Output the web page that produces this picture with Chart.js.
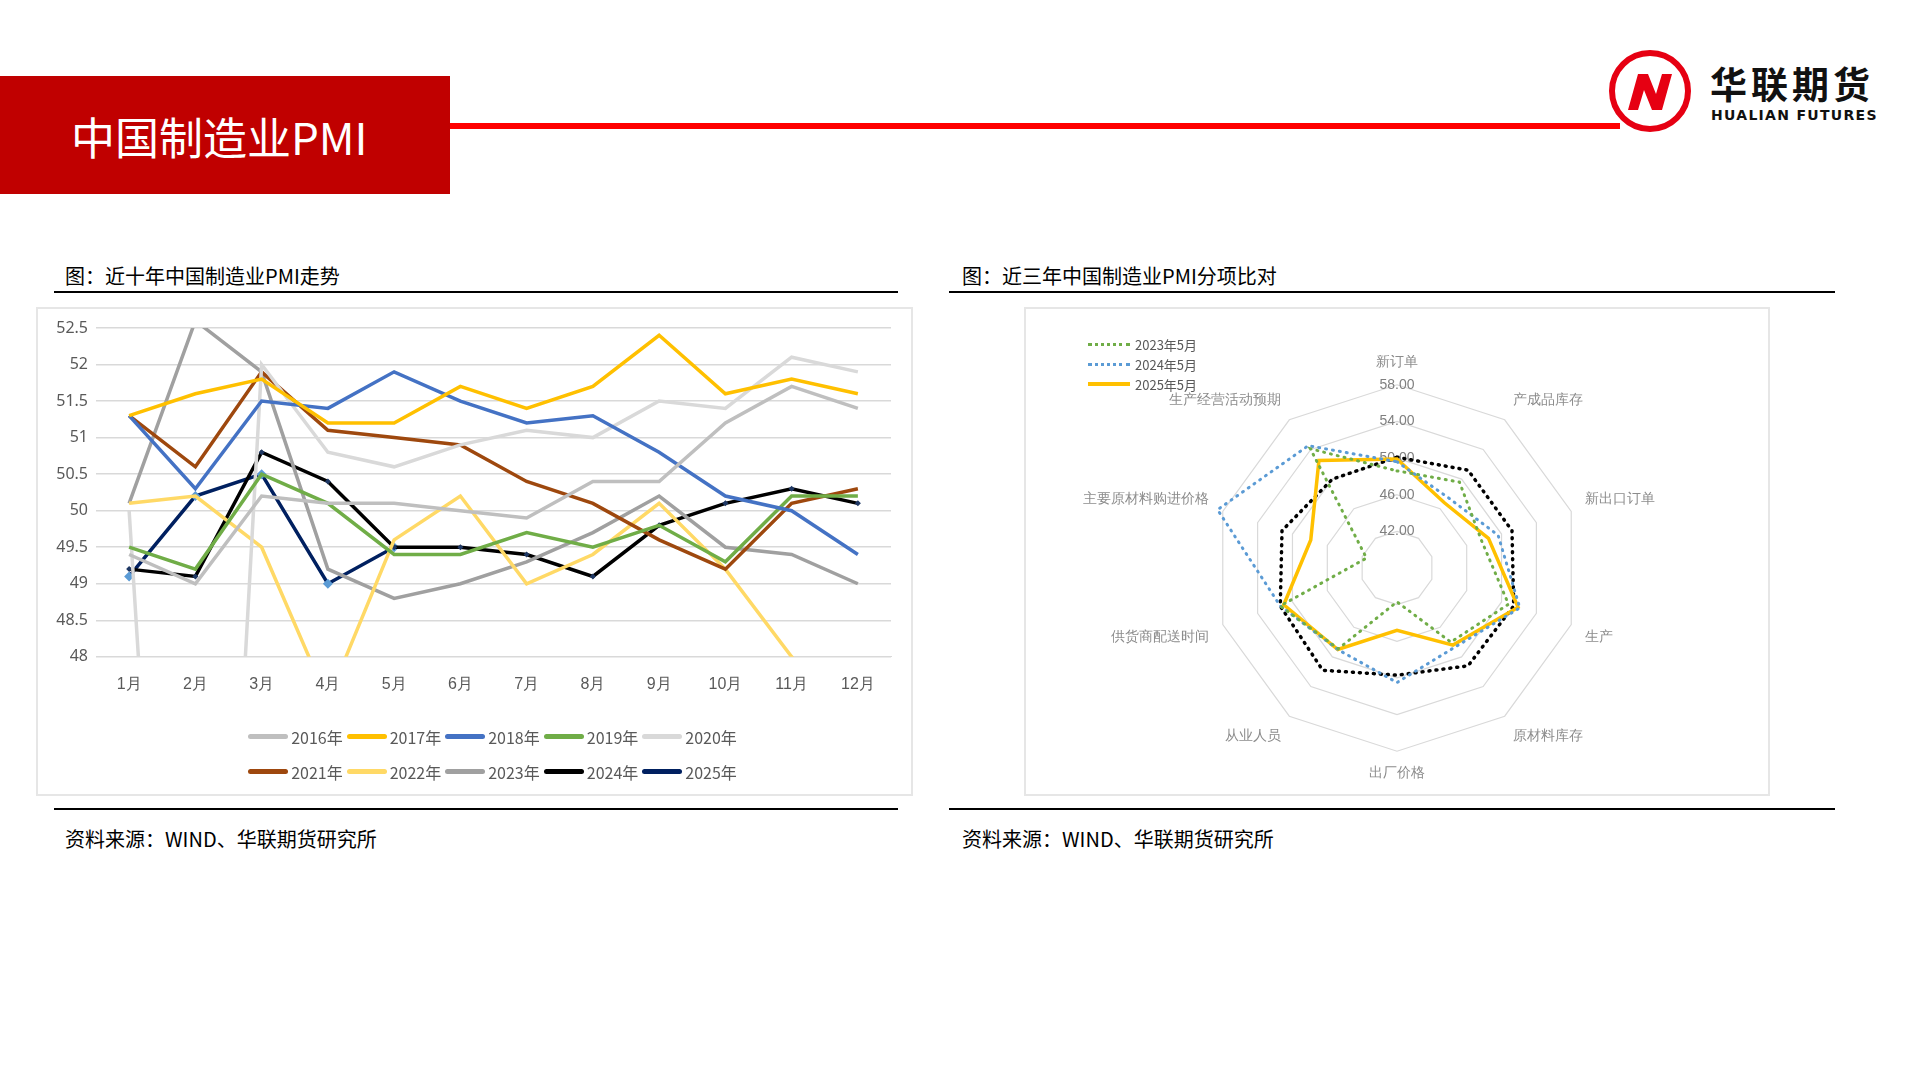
<!DOCTYPE html>
<html>
<head>
<meta charset="utf-8">
<script src="https://cdn.jsdelivr.net/npm/chart.js@4.4.1/dist/chart.umd.min.js"></script>
<style>
  body { margin: 0; width: 1920px; height: 1080px; background: #fff; position: relative; overflow: hidden;
         font-family: "Noto Sans CJK SC", "Noto Sans", sans-serif; }
  .abs { position: absolute; }
  #headBox { left: 0; top: 76px; width: 450px; height: 118px; background: #c00000; }
  #headText { left: 71px; top: 108px; color: #fff; font-size: 44px; line-height: 56px; }
  #headLine { left: 450px; top: 123px; width: 1170px; height: 6px; background: #ff0000; }
  .rule { height: 2px; background: #000; }
  .cap { font-size: 20px; color: #000; }
  .box { border: 2px solid #e6e6e6; box-sizing: border-box; }
  .leg { font-size: 16px; color: #595959; display: flex; align-items: center; }
  .sw { display: inline-block; width: 40px; height: 5px; margin-right: 3px; border-radius: 3px; }
  .rleg { font-size: 13px; color: #595959; display: flex; align-items: center; height: 20px; }
</style>
</head>
<body>
<div id="headBox" class="abs"></div>
<div id="headText" class="abs">中国制造业PMI</div>
<div id="headLine" class="abs"></div>

<svg class="abs" style="left:1608px;top:48px" width="84" height="86" viewBox="0 0 84 86">
  <circle cx="42" cy="43" r="38" fill="#fff" stroke="#e60012" stroke-width="6"/>
  <path d="M20 62 L30 26 L40 26 L48 46 L54 26 L64 26 L54 62 L44 62 L36 42 L30 62 Z" fill="#e60012"/>
</svg>
<div class="abs" style="left:1710px;top:56px;font-size:37px;font-weight:bold;letter-spacing:4px;color:#111">华联期货</div>
<div class="abs" style="left:1711px;top:107px;font-size:14px;font-weight:bold;letter-spacing:1.3px;color:#111;font-family:'DejaVu Sans'">HUALIAN FUTURES</div>

<!-- left -->
<div class="abs cap" style="left:65px;top:261px">图：近十年中国制造业PMI走势</div>
<div class="abs rule" style="left:54px;top:291px;width:844px"></div>
<div class="abs box" style="left:36px;top:307px;width:877px;height:489px"></div>
<canvas id="lineChart" class="abs" style="left:36px;top:307px" width="877" height="489"></canvas>
<div id="lineLegend" class="abs" style="left:36px;top:719px;width:877px"></div>
<div class="abs rule" style="left:54px;top:808px;width:844px"></div>
<div class="abs cap" style="left:65px;top:824px">资料来源：WIND、华联期货研究所</div>

<!-- right -->
<div class="abs cap" style="left:962px;top:261px">图：近三年中国制造业PMI分项比对</div>
<div class="abs rule" style="left:949px;top:291px;width:886px"></div>
<div class="abs box" style="left:1024px;top:307px;width:746px;height:489px"></div>
<canvas id="radarChart" class="abs" style="left:1027px;top:355px" width="740" height="428"></canvas>
<div id="radarLegend" class="abs" style="left:1088px;top:334px"></div>
<div class="abs rule" style="left:949px;top:808px;width:886px"></div>
<div class="abs cap" style="left:962px;top:824px">资料来源：WIND、华联期货研究所</div>

<script>
const months = ["1月","2月","3月","4月","5月","6月","7月","8月","9月","10月","11月","12月"];
const yearLabels = ["2016年","2017年","2018年","2019年","2020年","2021年","2022年","2023年","2024年","2025年"];
const yearColors = ["#bfbfbf","#ffc000","#4472c4","#70ad47","#d9d9d9","#9e480e","#ffd966","#a0a0a0","#000000","#002060"];
const pmi2016 = [49.4, 49.0, 50.2, 50.1, 50.1, 50.0, 49.9, 50.4, 50.4, 51.2, 51.7, 51.4];
const pmi2017 = [51.3, 51.6, 51.8, 51.2, 51.2, 51.7, 51.4, 51.7, 52.4, 51.6, 51.8, 51.6];
const pmi2018 = [51.3, 50.3, 51.5, 51.4, 51.9, 51.5, 51.2, 51.3, 50.8, 50.2, 50.0, 49.4];
const pmi2019 = [49.5, 49.2, 50.5, 50.1, 49.4, 49.4, 49.7, 49.5, 49.8, 49.3, 50.2, 50.2];
const pmi2020 = [50.0, 35.7, 52.0, 50.8, 50.6, 50.9, 51.1, 51.0, 51.5, 51.4, 52.1, 51.9];
const pmi2021 = [51.3, 50.6, 51.9, 51.1, 51.0, 50.9, 50.4, 50.1, 49.6, 49.2, 50.1, 50.3];
const pmi2022 = [50.1, 50.2, 49.5, 47.4, 49.6, 50.2, 49.0, 49.4, 50.1, 49.2, 48.0, 47.0];
const pmi2023 = [50.1, 52.6, 51.9, 49.2, 48.8, 49.0, 49.3, 49.7, 50.2, 49.5, 49.4, 49.0];
const pmi2024 = [49.2, 49.1, 50.8, 50.4, 49.5, 49.5, 49.4, 49.1, 49.8, 50.1, 50.3, 50.1];
const pmi2025 = [49.1, 50.2, 50.5, 49.0, 49.5];
const yearSeries = [pmi2016, pmi2017, pmi2018, pmi2019, pmi2020, pmi2021, pmi2022, pmi2023, pmi2024, pmi2025];

const items = ["新订单","产成品库存","新出口订单","生产","原材料库存","出厂价格","从业人员","供货商配送时间","主要原材料购进价格","生产经营活动预期"];
const may2023 = [48.6, 49.6, 47.7, 50.8, 48.0, 41.7, 48.9, 51.4, 41.5, 54.1];
const may2024 = [49.6, 47.5, 49.6, 52.1, 48.7, 50.5, 49.0, 51.4, 58.6, 54.5];
const may2025 = [49.9, 46.8, 48.5, 51.9, 48.4, 44.8, 49.0, 51.0, 47.9, 52.5];
const refLine = [50.1, 51.2, 51.2, 51.4, 51.2, 49.7, 51.8, 51.4, 51.2, 50.0];

const lineDatasets = yearSeries.map((d, i) => ({
  label: yearLabels[i],
  data: d,
  borderColor: yearColors[i],
  backgroundColor: i === 9 ? "#5b9bd5" : "#1f3864",
  borderWidth: 3.5,
  pointStyle: "rectRot",
  pointRadius: i === 9 ? 5 : (i === 8 ? 3 : 0),
  pointBorderWidth: 0,
  tension: 0
}));
new Chart(document.getElementById("lineChart"), {
  type: "line",
  data: { labels: months, datasets: lineDatasets },
  options: {
    responsive: false,
    animation: false,
    layout: { padding: { top: 21, right: 22, bottom: 92, left: 0 } },
    plugins: { legend: { display: false }, tooltip: { enabled: false } },
    scales: {
      y: {
        min: 48, max: 52.5,
        afterFit: s => { s.width = 60; },
        ticks: { stepSize: 0.5, color: "#595959", font: { size: 16, family: "Liberation Sans Narrow, Noto Sans" }, padding: 8,
                 callback: v => String(Math.round(v * 10) / 10) },
        grid: { color: "#d9d9d9", lineWidth: 1.5, drawTicks: false },
        border: { display: false }
      },
      x: {
        offset: true,
        ticks: { color: "#595959", font: { size: 16 }, padding: 10 },
        grid: { display: false },
        border: { color: "#d9d9d9" }
      }
    }
  }
});

const lineLegend = document.getElementById("lineLegend");
[yearLabels.slice(0, 5), yearLabels.slice(5)].forEach((row, r) => {
  const div = document.createElement("div");
  div.style.cssText = "display:flex;justify-content:center;gap:4px;height:35px;margin-left:36px";
  row.forEach((lab, j) => {
    const i = r * 5 + j;
    const it = document.createElement("span");
    it.className = "leg";
    it.innerHTML = `<span class="sw" style="background:${yearColors[i]}"></span>${lab}`;
    div.appendChild(it);
  });
  lineLegend.appendChild(div);
});

const radarSets = [
  { label: "2023年5月", data: may2023, borderColor: "#70ad47", borderDash: [1, 6], borderWidth: 3 },
  { label: "2024年5月", data: may2024, borderColor: "#5b9bd5", borderDash: [1, 6], borderWidth: 3 },
  { label: "2025年5月", data: may2025, borderColor: "#ffc000", borderWidth: 3.5 },
  { label: "", data: refLine, borderColor: "#000000", borderDash: [1, 6], borderWidth: 3.5 }
];
new Chart(document.getElementById("radarChart"), {
  type: "radar",
  data: {
    labels: items,
    datasets: radarSets.map(s => Object.assign({ fill: false, pointRadius: 0, borderCapStyle: "round", tension: 0 }, s))
  },
  options: {
    responsive: false,
    animation: false,
    plugins: { legend: { display: false }, tooltip: { enabled: false } },
    scales: {
      r: {
        min: 38, max: 58,
        ticks: { stepSize: 4, color: "#7f7f7f", backdropColor: "rgba(0,0,0,0)", font: { size: 14 }, callback: v => v.toFixed(2) },
        grid: { color: "#d9d9d9", lineWidth: 1.2 },
        angleLines: { display: false },
        pointLabels: { color: "#8c8c8c", font: { size: 14 }, padding: 5 }
      }
    }
  }
});

const radarLegend = document.getElementById("radarLegend");
radarSets.slice(0, 3).forEach(s => {
  const it = document.createElement("div");
  it.className = "rleg";
  const line = s.borderDash
    ? `<span style="display:inline-block;width:42px;border-top:3px dotted ${s.borderColor};margin-right:5px"></span>`
    : `<span style="display:inline-block;width:42px;height:3.5px;background:${s.borderColor};margin-right:5px"></span>`;
  it.innerHTML = line + s.label;
  radarLegend.appendChild(it);
});
</script>
</body>
</html>
